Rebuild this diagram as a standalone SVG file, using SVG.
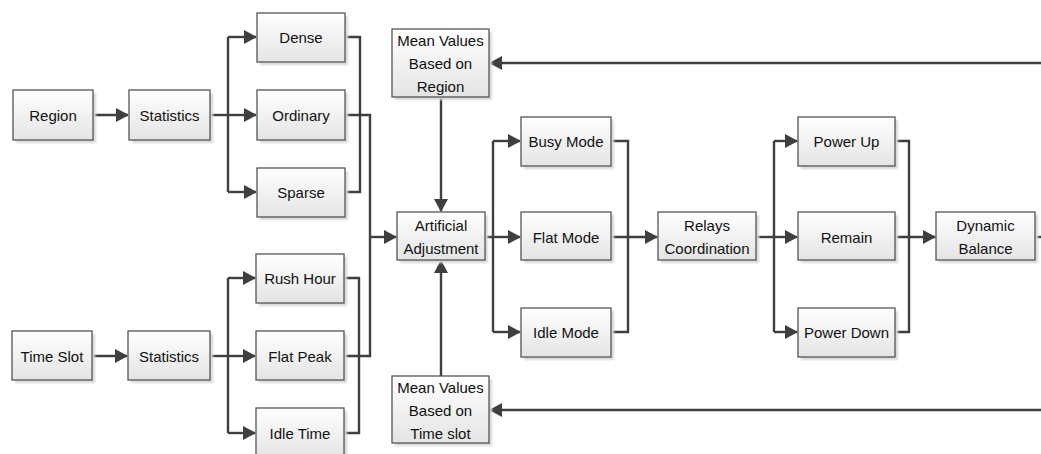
<svg xmlns="http://www.w3.org/2000/svg" width="1041" height="454" viewBox="0 0 1041 454">
<style>
.box{fill:url(#g);stroke:#555;stroke-width:1.3}
.sh{fill:#d8d8d8;filter:url(#blur)}
.t{font-family:"Liberation Sans",Arial,sans-serif;font-size:15px;fill:#111;text-anchor:middle}
.c{fill:none;stroke:#3f3f3f;stroke-width:2.4}
.a{marker-end:url(#ah)}
</style>
<defs>
<linearGradient id="g" x1="0" y1="0" x2="0" y2="1">
<stop offset="0" stop-color="#ffffff"/>
<stop offset="1" stop-color="#e4e4e4"/>
</linearGradient>
<filter id="blur" x="-10%" y="-10%" width="120%" height="120%"><feGaussianBlur stdDeviation="1"/></filter>
<marker id="ah" markerUnits="userSpaceOnUse" markerWidth="13" markerHeight="14" refX="12" refY="7" orient="auto">
<path d="M0,0 L13,7 L0,14 z" fill="#3f3f3f"/>
</marker>
</defs>
<rect width="1041" height="454" fill="#fff"/>

<g id="connectors">
<path class="c a" d="M93,115 H128"/>
<path class="c" d="M210,115 H228"/>
<path class="c" d="M228,37 V192"/>
<path class="c a" d="M228,37 H256"/>
<path class="c a" d="M228,115 H256"/>
<path class="c a" d="M228,192 H256"/>
<path class="c" d="M345,37 H360 V192 H345"/>
<path class="c" d="M345,115 H370 V356 H344"/>
<path class="c a" d="M370,237 H396"/>

<path class="c a" d="M92,356 H127"/>
<path class="c" d="M210,356 H228"/>
<path class="c" d="M228,278 V433"/>
<path class="c a" d="M228,278 H255"/>
<path class="c a" d="M228,356 H255"/>
<path class="c a" d="M228,433 H255"/>
<path class="c" d="M344,278 H359 V433 H344"/>

<path class="c a" d="M441,97 V211"/>
<path class="c a" d="M441,376 V261"/>
<path class="c a" d="M1041,63 H490"/>
<path class="c a" d="M1041,410 H490"/>

<path class="c" d="M485,237 H493"/>
<path class="c" d="M493,141 V332"/>
<path class="c a" d="M493,141 H520"/>
<path class="c a" d="M493,237 H520"/>
<path class="c a" d="M493,332 H520"/>
<path class="c" d="M611,141 H628 V332 H611"/>
<path class="c a" d="M611,237 H657"/>

<path class="c" d="M756,237 H774"/>
<path class="c" d="M774,141 V332"/>
<path class="c a" d="M774,141 H797"/>
<path class="c a" d="M774,237 H797"/>
<path class="c a" d="M774,332 H797"/>
<path class="c" d="M895,141 H909 V332 H895"/>
<path class="c a" d="M895,237 H935"/>
<path class="c" d="M1035,237 H1041"/>
</g>

<g id="region"><rect class="sh" x="16" y="93" width="80" height="50"/><rect class="box" x="13" y="90" width="80" height="50"/><text class="t" x="53" y="120.5">Region</text></g>
<g id="stats1"><rect class="sh" x="132" y="93" width="81" height="50"/><rect class="box" x="129" y="90" width="81" height="50"/><text class="t" x="169.5" y="120.5">Statistics</text></g>
<g id="dense"><rect class="sh" x="260" y="16" width="88" height="49"/><rect class="box" x="257" y="13" width="88" height="49"/><text class="t" x="301" y="43">Dense</text></g>
<g id="ordinary"><rect class="sh" x="260" y="93" width="88" height="50"/><rect class="box" x="257" y="90" width="88" height="50"/><text class="t" x="301" y="120.5">Ordinary</text></g>
<g id="sparse"><rect class="sh" x="260" y="171" width="88" height="49"/><rect class="box" x="257" y="168" width="88" height="49"/><text class="t" x="301" y="198">Sparse</text></g>

<g id="timeslot"><rect class="sh" x="15" y="334" width="80" height="49"/><rect class="box" x="12" y="331" width="80" height="49"/><text class="t" x="52" y="361.5">Time Slot</text></g>
<g id="stats2"><rect class="sh" x="131" y="334" width="82" height="49"/><rect class="box" x="128" y="331" width="82" height="49"/><text class="t" x="169" y="361.5">Statistics</text></g>
<g id="rushhour"><rect class="sh" x="259" y="257" width="88" height="49"/><rect class="box" x="256" y="254" width="88" height="49"/><text class="t" x="300" y="284">Rush Hour</text></g>
<g id="flatpeak"><rect class="sh" x="259" y="334" width="88" height="49"/><rect class="box" x="256" y="331" width="88" height="49"/><text class="t" x="300" y="361.5">Flat Peak</text></g>
<g id="idletime"><rect class="sh" x="259" y="411" width="88" height="49"/><rect class="box" x="256" y="408" width="88" height="49"/><text class="t" x="300" y="439">Idle Time</text></g>

<g id="meanregion"><rect class="sh" x="395" y="32" width="97" height="68"/><rect class="box" x="392" y="29" width="97" height="68"/><text class="t" x="440.5" y="46">Mean Values</text><text class="t" x="440.5" y="69">Based on</text><text class="t" x="440.5" y="91.5">Region</text></g>
<g id="meantime"><rect class="sh" x="395" y="379" width="97" height="67"/><rect class="box" x="392" y="376" width="97" height="67"/><text class="t" x="440.5" y="392.5">Mean Values</text><text class="t" x="440.5" y="415.5">Based on</text><text class="t" x="440.5" y="438.5">Time slot</text></g>
<g id="artificial"><rect class="sh" x="400" y="215" width="88" height="48"/><rect class="box" x="397" y="212" width="88" height="48"/><text class="t" x="441" y="230.5">Artificial</text><text class="t" x="441" y="253.5">Adjustment</text></g>

<g id="busy"><rect class="sh" x="524" y="120" width="90" height="49"/><rect class="box" x="521" y="117" width="90" height="49"/><text class="t" x="566" y="146.5">Busy Mode</text></g>
<g id="flatmode"><rect class="sh" x="524" y="215" width="90" height="48"/><rect class="box" x="521" y="212" width="90" height="48"/><text class="t" x="566" y="242.5">Flat Mode</text></g>
<g id="idlemode"><rect class="sh" x="524" y="311" width="90" height="49"/><rect class="box" x="521" y="308" width="90" height="49"/><text class="t" x="566" y="338">Idle Mode</text></g>

<g id="relays"><rect class="sh" x="661" y="215" width="98" height="48"/><rect class="box" x="658" y="212" width="98" height="48"/><text class="t" x="707" y="230.5">Relays</text><text class="t" x="707" y="253.5">Coordination</text></g>

<g id="powerup"><rect class="sh" x="801" y="120" width="97" height="49"/><rect class="box" x="798" y="117" width="97" height="49"/><text class="t" x="846.5" y="146.5">Power Up</text></g>
<g id="remain"><rect class="sh" x="801" y="215" width="97" height="48"/><rect class="box" x="798" y="212" width="97" height="48"/><text class="t" x="846.5" y="242.5">Remain</text></g>
<g id="powerdown"><rect class="sh" x="801" y="311" width="97" height="49"/><rect class="box" x="798" y="308" width="97" height="49"/><text class="t" x="846.5" y="338">Power Down</text></g>

<g id="dynamic"><rect class="sh" x="939" y="215" width="99" height="48"/><rect class="box" x="936" y="212" width="99" height="48"/><text class="t" x="985.5" y="230.5">Dynamic</text><text class="t" x="985.5" y="253.5">Balance</text></g>
</svg>
